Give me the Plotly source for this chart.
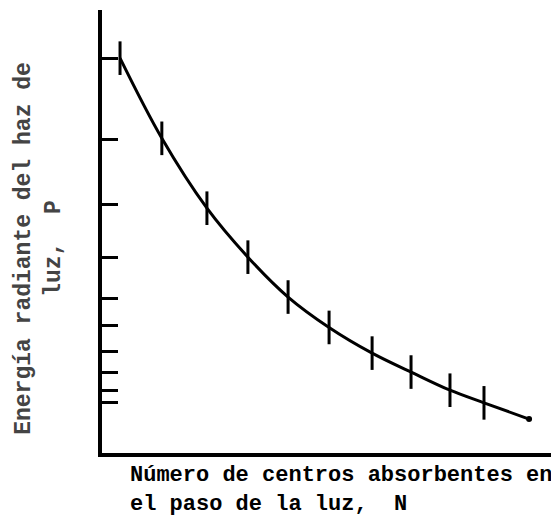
import plotly.graph_objects as go

# Data (N = number of absorbing centres, P = radiant power, P0 = 100)
n_points = [0.0, 1.02, 2.12, 3.12, 4.10, 5.10, 6.15, 7.10, 8.05, 8.88]
p_points = [100.0, 79.7, 62.0, 49.6, 39.5, 31.8, 25.3, 20.5, 15.9, 12.7]
n_end = [9.98]
p_end = [8.6]
y_tick_vals = [100.0, 79.5, 63.0, 49.4, 39.2, 32.2, 25.6, 20.3, 15.9, 12.7]

x_title = "Número de centros absorbentes en<br>el paso de la luz,\u00a0\u00a0<b>N</b>"
y_title = "Energía radiante del haz de<br>luz,\u00a0\u00a0<b>P</b>"

FONT = "Liberation Mono"

fig = go.Figure()
fig.add_trace(go.Scatter(
    x=n_points + n_end, y=p_points + p_end,
    mode="lines", line=dict(color="black", width=3, shape="spline"),
    hoverinfo="skip", showlegend=False,
))
fig.add_trace(go.Scatter(
    x=n_points, y=p_points, mode="markers",
    marker=dict(symbol="line-ns", size=24, line=dict(color="black", width=3)),
    showlegend=False,
))
fig.add_trace(go.Scatter(
    x=n_end, y=p_end, mode="markers",
    marker=dict(symbol="circle", size=6, color="black"),
    showlegend=False,
))

# the page body has an 8px margin, so the figure is 8px smaller than the window
fig.update_layout(
    width=551, height=511,
    margin=dict(l=94, r=0, t=2, b=66),
    paper_bgcolor="white", plot_bgcolor="white",
    font=dict(family=FONT, size=22, color="black"),
    xaxis=dict(range=[-0.44, 10.71], showline=True, linecolor="black", linewidth=4,
               showgrid=False, zeroline=False, showticklabels=False, ticks=""),
    yaxis=dict(range=[0, 112.2], showline=True, linecolor="black", linewidth=4,
               showgrid=False, zeroline=False, showticklabels=False,
               tickmode="array", tickvals=y_tick_vals, ticks="inside",
               ticklen=16, tickwidth=3, tickcolor="black"),
    annotations=[
        dict(text=x_title, xref="paper", yref="paper", x=0.057, y=-0.018,
             xanchor="left", yanchor="top", align="left", showarrow=False,
             font=dict(family=FONT, size=22, color="black", weight="bold")),
        dict(text=y_title, xref="paper", yref="paper", x=-0.138, y=0.463,
             xanchor="center", yanchor="middle", align="center", showarrow=False,
             textangle=-90,
             font=dict(family=FONT, size=23, color="#444444", weight="bold")),
    ],
)

fig.write_html("out.html")
